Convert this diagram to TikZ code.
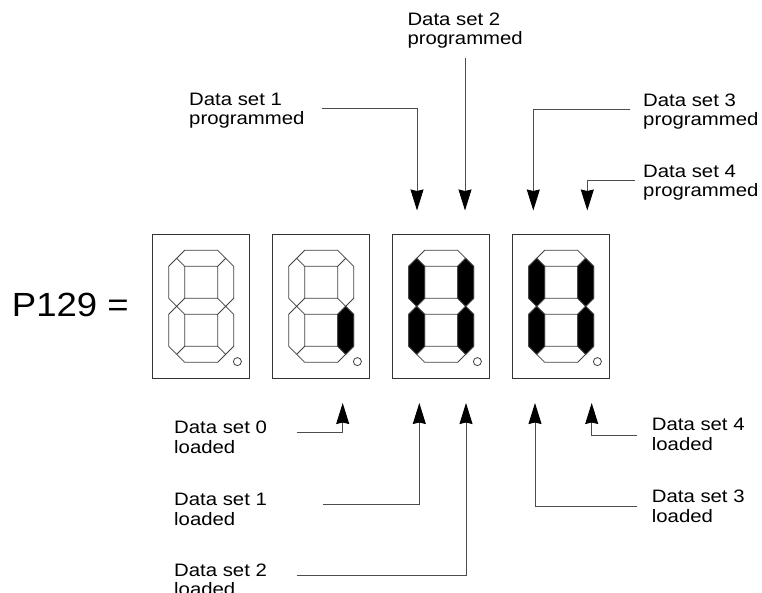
\documentclass[tikz,border=0pt]{standalone}
\usepackage{fontspec}
\setmainfont{Liberation Sans}
\newfontfamily\labelfont{Liberation Sans}[FakeStretch=1.13]
\newfontfamily\bigfont{Liberation Sans}[FakeStretch=1.09]
\usetikzlibrary{arrows.meta}

% segment outlines, box top left = (0,0), y downwards
\newcommand{\segA}{(24,24) -- (32,16) -- (65,16) -- (73,24) -- (65,32) -- (32,32) -- cycle}
\newcommand{\segB}{(73,24) -- (81,32) -- (81,64) -- (73,72) -- (65,64) -- (65,32) -- cycle}
\newcommand{\segC}{(73,72) -- (81,80) -- (81,112) -- (73,120) -- (65,112) -- (65,80) -- cycle}
\newcommand{\segD}{(24,120) -- (32,112) -- (65,112) -- (73,120) -- (65,128) -- (32,128) -- cycle}
\newcommand{\segE}{(24,72) -- (32,80) -- (32,112) -- (24,120) -- (16,112) -- (16,80) -- cycle}
\newcommand{\segF}{(24,24) -- (32,32) -- (32,64) -- (24,72) -- (16,64) -- (16,32) -- cycle}
\newcommand{\segG}{(24,72) -- (32,64) -- (65,64) -- (73,72) -- (65,80) -- (32,80) -- cycle}
\newcommand{\digitoutline}{%
  \draw[dispbox] (0,0) rectangle (97,144);
  \draw[seg] \segA \segB \segC \segD \segE \segF \segG;
  \draw[seg] (84.7,127.3) circle (4pt);}

\tikzset{
  dispbox/.style={draw=black!80, line width=1.1pt},
  seg/.style={draw=black!75, line width=0.8pt},
  segon/.style={draw=black!75, fill=black, line width=0.8pt},
  conn/.style={draw=black!70, line width=0.9pt,
    -{Stealth[length=21pt,width=13pt,inset=1.5pt,color=black]}},
  lbl/.style={anchor=north west, inner sep=0pt, align=left,
    font=\labelfont\fontsize{18}{19.4}\selectfont}
}

\begin{document}
\begin{tikzpicture}[x=1pt,y=-1pt]
  \useasboundingbox (0,0) rectangle (762,592);
  \node[anchor=north west, inner sep=0pt,
    font=\bigfont\fontsize{33.5}{40}\selectfont] (ptext) at (11.7,292.7) {P129 =};
  % Digit 1
  \begin{scope}[shift={(152.7,234.3)}]
    \digitoutline
  \end{scope}
  % Digit 2
  \begin{scope}[shift={(272.7,234.3)}]
    \digitoutline
    \filldraw[segon] \segC;
  \end{scope}
  % Digit 3
  \begin{scope}[shift={(392.7,234.3)}]
    \digitoutline
    \filldraw[segon] \segB \segC \segE \segF;
  \end{scope}
  % Digit 4
  \begin{scope}[shift={(512.7,234.3)}]
    \digitoutline
    \filldraw[segon] \segB \segC \segE \segF;
  \end{scope}
  % programmed
  \node[lbl] (lp1) at (189,92.8) {Data set 1\\programmed};
  \node[lbl] (lp2) at (407.3,12.7) {Data set 2\\programmed};
  \node[lbl] (lp3) at (643,93.3) {Data set 3\\programmed};
  \node[lbl] (lp4) at (643,165) {Data set 4\\programmed};
  \coordinate (sp1) at (321.7,108.3);
  \coordinate (sp2) at (465,58.3);
  \coordinate (sp3) at (630,109.3);
  \coordinate (sp4) at (635,180);
  \coordinate (tp1) at (417,210.5);
  \coordinate (tp2) at (465,210.5);
  \coordinate (tp3) at (533.3,210.5);
  \coordinate (tp4) at (587.3,210.5);
  \draw[conn] (sp1) -| (tp1);
  \draw[conn] (sp2) -- (tp2);
  \draw[conn] (sp3) -| (tp3);
  \draw[conn] (sp4) -| (tp4);
  % loaded
  \node[lbl] (ll0) at (174,421) {Data set 0\\loaded};
  \node[lbl] (ll1) at (174,493.3) {Data set 1\\loaded};
  \node[lbl] (ll2) at (174,563.3) {Data set 2\\loaded};
  \node[lbl] (ll3) at (651.7,490) {Data set 3\\loaded};
  \node[lbl] (ll4) at (651.7,418.3) {Data set 4\\loaded};
  \coordinate (sl0) at (296.7,432.7);
  \coordinate (sl1) at (323.3,504.3);
  \coordinate (sl2) at (296.7,575);
  \coordinate (sl3) at (636.7,506.7);
  \coordinate (sl4) at (636.7,435);
  \coordinate (tl0) at (342.7,403);
  \coordinate (tl1) at (419.3,403);
  \coordinate (tl2) at (466,403);
  \coordinate (tl3) at (535,403);
  \coordinate (tl4) at (591.7,403);
  \draw[conn] (sl0) -| (tl0);
  \draw[conn] (sl1) -| (tl1);
  \draw[conn] (sl2) -| (tl2);
  \draw[conn] (sl3) -| (tl3);
  \draw[conn] (sl4) -| (tl4);
\end{tikzpicture}
\end{document}
